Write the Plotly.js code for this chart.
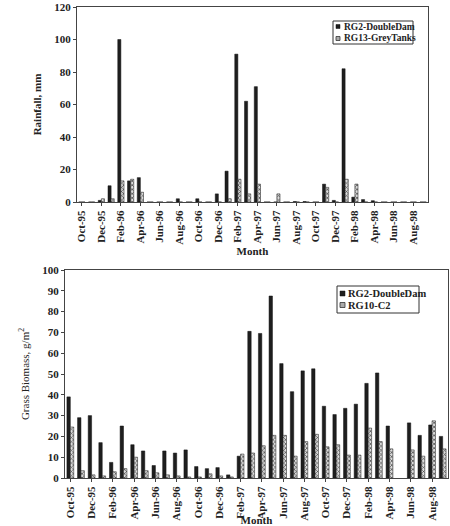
<!DOCTYPE html>
<html>
<head>
<meta charset="utf-8">
<script src="https://cdn.plot.ly/plotly-3.0.1.min.js"></script>
<style>html,body{margin:0;padding:0;background:#fff}#chart{width:450px;height:526px}</style>
</head>
<body>
<div id="chart"></div>
<script>
const months = ["Oct-95","Nov-95","Dec-95","Jan-96","Feb-96","Mar-96","Apr-96","May-96","Jun-96","Jul-96","Aug-96","Sep-96",
  "Oct-96","Nov-96","Dec-96","Jan-97","Feb-97","Mar-97","Apr-97","May-97","Jun-97","Jul-97","Aug-97","Sep-97",
  "Oct-97","Nov-97","Dec-97","Jan-98","Feb-98","Mar-98","Apr-98","May-98","Jun-98","Jul-98","Aug-98","Sep-98"];
const tickLabels = ["Oct-95","Dec-95","Feb-96","Apr-96","Jun-96","Aug-96","Oct-96","Dec-96","Feb-97","Apr-97",
  "Jun-97","Aug-97","Oct-97","Dec-97","Feb-98","Apr-98","Jun-98","Aug-98"];

// Rainfall, mm
const rainNames = ["RG2-DoubleDam","RG13-GreyTanks"];
const rainRG2 = [0,0,1,10,100,13,15,0,0,0,2,0,2,0,5,19,91,62,71,0,0,0,0.3,0.3,0,11,1,82,3,1.5,0.8,0,0,0,0,0];
const rainRG13 = [0,0,2,2,13,14,6,0,0,0,0,0,0,0,0,2,14,5,11,0,5,0,0,0,0,9,0,14,11,0,0,0,0,0,0,0];

// Grass biomass, g/m2
const bioNames = ["RG2-DoubleDam","RG10-C2"];
const bioRG2 = [39,29,30,17,7.5,25,16,13,6,13,12,13.5,5.5,4.5,5,1.5,10.5,70.5,69.5,87.5,55,41.5,51.5,52.5,
  34.5,30.5,33.5,35.5,45.5,50.5,25,null,26.5,20.5,25.5,20];
const bioRG10 = [24.5,3.5,1.5,1,3,4.5,10,3.5,2.5,1.5,1,0.5,0.5,2,1,0.5,11.5,12,15.5,20.5,20.5,10.5,17.5,21,
  15,16,11,11,24,17.5,14,null,13.5,10.5,27.5,14];

const W = 450, H = 526;
const px = v => v / W, py = v => 1 - v / H;

const dark = {color:'#1e1e1e', line:{color:'#111', width:0.5}};
const hatch = {color:'#bbb', pattern:{shape:'x', size:3, solidity:0.4, fgcolor:'#444', bgcolor:'#ddd'}, line:{color:'#333', width:0.6}};

const traces = [
  {type:'bar', x:months, y:rainRG2, name:rainNames[0], marker:dark, xaxis:'x', yaxis:'y'},
  {type:'bar', x:months, y:rainRG13, name:rainNames[1], marker:hatch, xaxis:'x', yaxis:'y'},
  {type:'bar', x:months, y:bioRG2, name:bioNames[0], marker:dark, xaxis:'x2', yaxis:'y2'},
  {type:'bar', x:months, y:bioRG10, name:bioNames[1], marker:hatch, xaxis:'x2', yaxis:'y2'}
];

const tf = {family:'Liberation Serif, serif', size:11, color:'#222', weight:'bold'};
function xax(dom, anchor, standoff){
  return {domain:dom, anchor:anchor, type:'category', categoryarray:months, categoryorder:'array',
    tickmode:'array', tickvals:tickLabels, ticktext:tickLabels, tickangle:-90, tickfont:tf,
    showline:true, linecolor:'#444', linewidth:1, mirror:true, ticks:'outside', ticklen:3, tickcolor:'#444',
    showgrid:false, zeroline:false,
    title:{text:'Month', font:{family:'Liberation Serif, serif', size:11, color:'#222', weight:'bold'}, standoff:standoff}};
}
function yax(dom, anchor, range, dtick, title, bold){
  return {domain:dom, anchor:anchor, range:range, dtick:dtick, tickfont:tf,
    showline:true, linecolor:'#444', linewidth:1, mirror:true, ticks:'outside', ticklen:3, tickcolor:'#444',
    showgrid:false, zeroline:false,
    title:{text:title, font:{family:'Liberation Serif, serif', size:11, color:'#222', weight: bold ? 'bold' : 'normal'}, standoff:10}};
}

// hand-built legends (compact boxes like the reference)
function legendParts(x0, y0, x1, y1, rows, names, sq, fs, textX){
  const shapes = [
    {type:'rect', xref:'paper', yref:'paper', x0:px(x0), x1:px(x1), y0:py(y1), y1:py(y0), line:{color:'#333', width:1}, fillcolor:'#fff', layer:'above'},
    {type:'rect', xref:'paper', yref:'paper', x0:px(x0+3), x1:px(x0+3+sq), y0:py(rows[0]+sq/2), y1:py(rows[0]-sq/2), line:{color:'#111', width:0.5}, fillcolor:'#1e1e1e', layer:'above'},
    {type:'rect', xref:'paper', yref:'paper', x0:px(x0+3), x1:px(x0+3+sq), y0:py(rows[1]+sq/2), y1:py(rows[1]-sq/2), line:{color:'#333', width:0.8}, fillcolor:'#aaa', layer:'above'}
  ];
  const ann = names.map((n, i) => ({xref:'paper', yref:'paper', x:px(textX), y:py(rows[i]), xanchor:'left', yanchor:'middle',
    text:n, showarrow:false, borderpad:0, font:{family:'Liberation Serif, serif', size:fs, color:'#222', weight:'bold'}}));
  return {shapes, ann};
}
const L1 = legendParts(333, 21, 413, 44, [26.5, 38.5], rainNames, 4, 9.5, 343);
const L2 = legendParts(337, 286, 419, 313, [293.5, 305], bioNames, 5, 10.5, 347);

const layout = {
  width:W, height:H, margin:{l:0, r:0, t:0, b:0}, paper_bgcolor:'#fff', plot_bgcolor:'#fff',
  barmode:'group', bargap:0.36, bargroupgap:0, showlegend:false,
  font:{family:'Liberation Serif, serif', color:'#222'},
  xaxis: xax([px(77), px(428)], 'y', 3),
  yaxis: yax([py(202), py(7)], 'x', [0,120], 20, 'Rainfall, mm', true),
  xaxis2: xax([px(65), px(448)], 'y2', 4),
  yaxis2: yax([py(478), py(270)], 'x2', [0,100], 10, 'Grass Biomass, g/m<sup>2</sup>', false),
  shapes: L1.shapes.concat(L2.shapes),
  annotations: L1.ann.concat(L2.ann)
};

Plotly.newPlot('chart', traces, layout, {staticPlot:true, displayModeBar:false});
</script>
</body>
</html>
